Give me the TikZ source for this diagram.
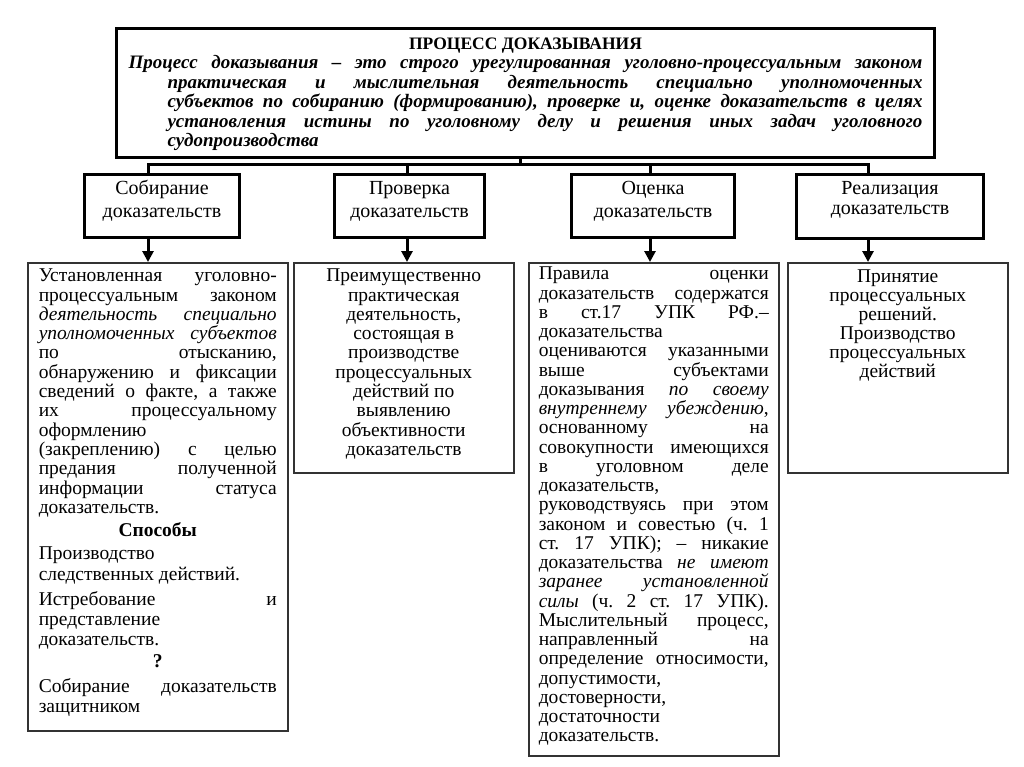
\documentclass[tikz,border=0pt]{standalone}
\usepackage{fontspec}
\setmainfont{Liberation Serif}
\usetikzlibrary{arrows.meta}
\frenchspacing
\newcommand{\jl}[1]{\makebox[\linewidth][s]{#1}}
\begin{document}
\begin{tikzpicture}[x=1pt,y=-1pt,
  topbox/.style={draw, line width=3pt, inner sep=0pt, anchor=north west},
  headbox/.style={draw, line width=3pt, inner sep=0pt, anchor=north west},
  bodybox/.style={draw=black!80, line width=1.5pt, inner sep=0pt, anchor=north west},
  conn/.style={line width=3pt},
  arr/.style={line width=3pt, -{Triangle[length=11pt,width=11pt]}},
  htext/.style={font=\fontsize{20}{23}\selectfont},
  btext/.style={font=\fontsize{19.5}{19.3}\selectfont}]
\useasboundingbox[fill=white] (0,0) rectangle (1024,767);

% top box
\node[topbox] (top) at (115,27) {\parbox[c][129pt][t]{818pt}{\centering\parbox[t]{794pt}{\fontsize{19}{19.5}\selectfont\bfseries\itshape
\rule{0pt}{21pt}\makebox[\linewidth][c]{\upshape\fontsize{17.5}{19}\selectfont ПРОЦЕСС ДОКАЗЫВАНИЯ}\\
\jl{Процесс доказывания – это строго урегулированная уголовно-процессуальным законом}\\
\hspace*{39pt}\makebox[755pt][s]{практическая и мыслительная деятельность специально уполномоченных}\\
\hspace*{39pt}\makebox[755pt][s]{субъектов по собиранию (формированию), проверке и, оценке доказательств в целях}\\
\hspace*{39pt}\makebox[755pt][s]{установления истины по уголовному делу и решения иных задач уголовного}\\
\hspace*{39pt}судопроизводства}}};

% header boxes
\node[headbox, htext] (h1) at (83,173) {\parbox[c][63pt][t]{155pt}{\centering\rule{0pt}{20pt}Собирание\\доказательств}};
\node[headbox, htext] (h2) at (333,173) {\parbox[c][63pt][t]{150pt}{\centering\rule{0pt}{20pt}Проверка\\доказательств}};
\node[headbox, htext] (h3) at (570,173) {\parbox[c][63pt][t]{163pt}{\centering\rule{0pt}{20pt}Оценка\\доказательств}};
\node[headbox, font=\fontsize{20}{20}\selectfont] (h4) at (795,173) {\parbox[c][64pt][t]{187pt}{\centering\rule{0pt}{20pt}Реализация\\доказательств}};

% body boxes
\node[bodybox, btext] (bA) at (27,262) {\parbox[c][468pt][t]{260pt}{\centering\parbox[t]{238pt}{\rule{0pt}{19pt}\jl{Установленная уголовно-}\\
\jl{процессуальным законом}\\
\jl{\textit{деятельность специально}}\\
\jl{\textit{уполномоченных субъектов}}\\
\jl{по отысканию,}\\
\jl{обнаружению и фиксации}\\
\jl{сведений о факте, а также}\\
\jl{их процессуальному}\\
оформлению\\
\jl{(закреплению) с целью}\\
\jl{предания полученной}\\
\jl{информации статуса}\\
доказательств.\\[4pt]
\makebox[\linewidth][c]{\textbf{Способы}}\\[4pt]
Производство\\[1.7pt]
следственных действий.\\[5.7pt]
\jl{Истребование и}\\[0.7pt]
представление\\[0.7pt]
доказательств.\\[2.7pt]
\makebox[\linewidth][c]{\textbf{?}}\\[5.7pt]
\jl{Собирание доказательств}\\[0.7pt]
защитником}}};

\node[bodybox, btext] (bB) at (293,262) {\parbox[c][210pt][t]{220pt}{\centering\rule{0pt}{19pt}Преимущественно\\практическая\\деятельность,\\состоящая в\\производстве\\процессуальных\\действий по\\выявлению\\объективности\\доказательств}};

\node[bodybox, btext] (bC) at (528,262) {\parbox[c][493pt][t]{250pt}{\centering\parbox[t]{230pt}{\fontsize{19.5}{19.25}\selectfont\rule{0pt}{17pt}\jl{Правила оценки}\\
\jl{доказательств содержатся}\\
\jl{в ст.17 УПК РФ.–}\\
доказательства\\
\jl{оцениваются указанными}\\
\jl{выше субъектами}\\
\jl{доказывания \textit{по своему}}\\
\jl{\textit{внутреннему убеждению},}\\
\jl{основанному на}\\
\jl{совокупности имеющихся}\\
\jl{в уголовном деле}\\
доказательств,\\
\jl{руководствуясь при этом}\\
\jl{законом и совестью (ч. 1}\\
\jl{ст. 17 УПК); – никакие}\\
\jl{доказательства \textit{не имеют}}\\
\jl{\textit{заранее установленной}}\\
\jl{\textit{силы} (ч. 2 ст. 17 УПК).}\\
\jl{Мыслительный процесс,}\\
\jl{направленный на}\\
\jl{определение относимости,}\\
допустимости,\\
достоверности,\\
достаточности\\
доказательств.}}};

\node[bodybox, font=\fontsize{19.5}{19}\selectfont] (bD) at (787,262) {\parbox[c][210pt][t]{220pt}{\centering\rule{0pt}{20pt}Принятие\\процессуальных\\решений.\\Производство\\процессуальных\\действий}};

% connectors
\coordinate (ct) at (520,165);
\coordinate (c1) at (148,165);
\coordinate (c2) at (407,165);
\coordinate (c3) at (650,165);
\coordinate (c4) at (868,165);
\draw[conn] (top.south -| ct) -- (ct);
\draw[conn] (c1 |- h1.north) -- (c1) -- (c4) -- (c4 |- h4.north);
\draw[conn] (c2) -- (c2 |- h2.north);
\draw[conn] (c3) -- (c3 |- h3.north);
\draw[arr] (c1 |- h1.south) -- (c1 |- bA.north);
\draw[arr] (c2 |- h2.south) -- (c2 |- bB.north);
\draw[arr] (c3 |- h3.south) -- (c3 |- bC.north);
\draw[arr] (c4 |- h4.south) -- (c4 |- bD.north);
\end{tikzpicture}
\end{document}
